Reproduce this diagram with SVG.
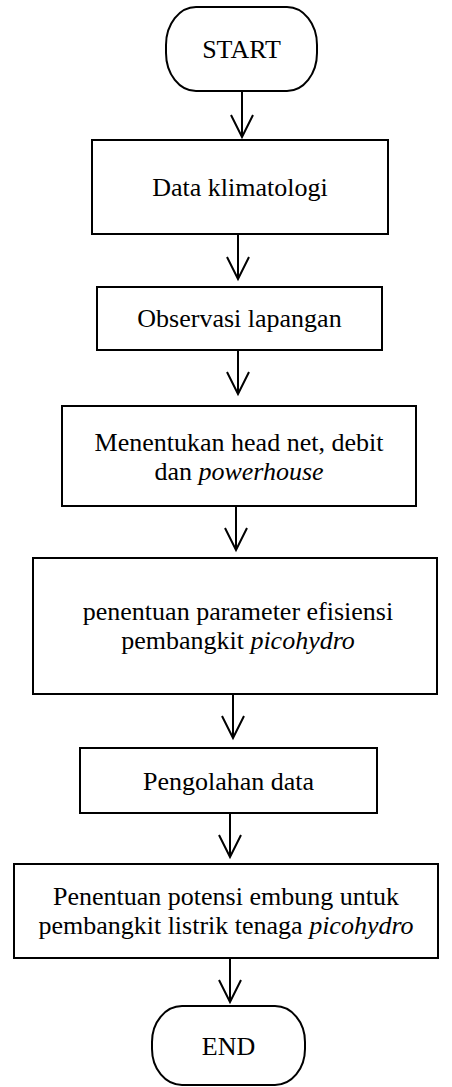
<svg xmlns="http://www.w3.org/2000/svg" width="452" height="1087" viewBox="0 0 452 1087">
  <defs>
    <style>
      .box { fill: #ffffff; stroke: #000000; stroke-width: 2; }
      .edge { fill: none; stroke: #000000; stroke-width: 2; }
      .txt { font-family: 'Liberation Serif', 'DejaVu Serif', serif; font-size: 26px; fill: #000000; text-anchor: middle; }
      .it { font-style: italic; }
    </style>
  </defs>
  <rect width="452" height="1087" fill="#ffffff"/>

  <g id="connectors">
    <line class="edge" x1="242" y1="91" x2="242" y2="137"/>
    <polyline class="edge" points="231,115 242,137 253,115"/>
    <line class="edge" x1="238" y1="234" x2="238" y2="279"/>
    <polyline class="edge" points="227,257 238,279 249,257"/>
    <line class="edge" x1="238" y1="350" x2="238" y2="394"/>
    <polyline class="edge" points="227,372 238,394 249,372"/>
    <line class="edge" x1="236" y1="506" x2="236" y2="550"/>
    <polyline class="edge" points="225,528 236,550 247,528"/>
    <line class="edge" x1="233" y1="694" x2="233" y2="738"/>
    <polyline class="edge" points="222,716 233,738 244,716"/>
    <line class="edge" x1="230" y1="813" x2="230" y2="857"/>
    <polyline class="edge" points="219,835 230,857 241,835"/>
    <line class="edge" x1="230" y1="958" x2="230" y2="1002"/>
    <polyline class="edge" points="219,980 230,1002 241,980"/>
  </g>

  <g id="start">
    <rect class="box" x="166" y="7" width="151" height="84" rx="30" ry="38"/>
    <text class="txt" font-family="Liberation Serif, serif" x="241.5" y="58">START</text>
  </g>

  <g id="data-klimatologi">
    <rect class="box" x="92" y="140" width="296" height="94"/>
    <text class="txt" font-family="Liberation Serif, serif" x="240" y="196">Data klimatologi</text>
  </g>

  <g id="observasi-lapangan">
    <rect class="box" x="97" y="287" width="285" height="63"/>
    <text class="txt" font-family="Liberation Serif, serif" x="239.5" y="327">Observasi lapangan</text>
  </g>

  <g id="menentukan">
    <rect class="box" x="62" y="406" width="354" height="100"/>
    <text class="txt" font-family="Liberation Serif, serif" x="239" y="451">Menentukan head net, debit</text>
    <text class="txt" font-family="Liberation Serif, serif" x="239" y="480">dan <tspan class="it">powerhouse</tspan></text>
  </g>

  <g id="penentuan-parameter">
    <rect class="box" x="33" y="558" width="404" height="136"/>
    <text class="txt" font-family="Liberation Serif, serif" x="238" y="620">penentuan parameter efisiensi</text>
    <text class="txt" font-family="Liberation Serif, serif" x="238" y="649">pembangkit <tspan class="it">picohydro</tspan></text>
  </g>

  <g id="pengolahan-data">
    <rect class="box" x="80" y="748" width="297" height="65"/>
    <text class="txt" font-family="Liberation Serif, serif" x="228.5" y="790">Pengolahan data</text>
  </g>

  <g id="penentuan-potensi">
    <rect class="box" x="14" y="864" width="424" height="94"/>
    <text class="txt" font-family="Liberation Serif, serif" x="226" y="905">Penentuan potensi embung untuk</text>
    <text class="txt" font-family="Liberation Serif, serif" x="226" y="934">pembangkit listrik tenaga <tspan class="it">picohydro</tspan></text>
  </g>

  <g id="end">
    <rect class="box" x="152" y="1006" width="153" height="79" rx="30" ry="36"/>
    <text class="txt" font-family="Liberation Serif, serif" x="228.5" y="1055">END</text>
  </g>
</svg>
